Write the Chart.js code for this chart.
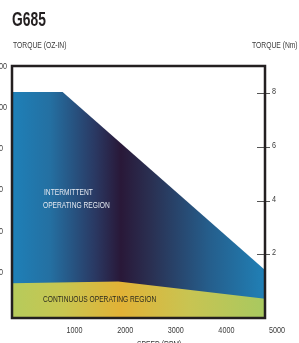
<!DOCTYPE html>
<html><head><meta charset="utf-8">
<script src="https://cdn.jsdelivr.net/npm/chart.js@4.4.1/dist/chart.umd.min.js"></script>
<style>
html,body{margin:0;padding:0;width:299px;height:343px;overflow:hidden;background:#fff;}
#wrap{position:absolute;left:-9px;top:0;width:308px;height:348px;}
.t{position:absolute;white-space:nowrap;font-family:"Liberation Sans",Arial,sans-serif;line-height:1;transform-origin:0 0;}
.s{font-size:9px;color:#3a3a3a;transform:scaleX(0.75);}
.r{font-size:9.5px;transform:scaleX(0.7);}
</style></head><body>
<div id="wrap"><canvas id="c" width="308" height="348"></canvas></div>
<div class="t" style="left:12px;top:9.5px;font-size:19.5px;font-weight:bold;color:#231f20;transform:scaleX(0.71);">G685</div>
<div class="t s" style="left:13px;top:40.6px;">TORQUE (OZ-IN)</div>
<div class="t s" style="left:251.5px;top:40.6px;">TORQUE (Nm)</div>
<div class="t s" style="left:137px;top:339.5px;">SPEED (RPM)</div>
<div class="t r" style="left:44px;top:187px;color:#e4e8f0;">INTERMITTENT</div>
<div class="t r" style="left:43px;top:200px;color:#e4e8f0;">OPERATING REGION</div>
<div class="t r" style="left:43px;top:294px;color:#2b2a1f;">CONTINUOUS OPERATING REGION</div>
<script>
// ---- data ----
const intermittentSpeed = [0, 1000, 5000];
const intermittentTorqueNm = [8.05, 8.05, 1.42];
const continuousSpeed = [0, 2100, 5000];
const continuousTorqueNm = [0.92, 0.99, 0.34];
const xTicks = [1000, 2000, 3000, 4000, 5000];
const leftTicksOzIn = [200, 400, 600, 800, 1000, 1200];
const rightTicksNm = [2, 4, 6, 8];

const FONT = '9.5px "Liberation Sans", Arial, sans-serif';
const SX = 0.76;

function hGrad(context, stops){
  const chart = context.chart, a = chart.chartArea;
  if(!a) return 'rgba(0,0,0,0)';
  const g = chart.ctx.createLinearGradient(a.left, 0, a.right, 0);
  stops.forEach(s => g.addColorStop(s[0], s[1]));
  return g;
}

function label(ctx, text, x, y, align){
  ctx.save();
  ctx.translate(x, y);
  ctx.scale(SX, 1);
  ctx.textAlign = align;
  ctx.textBaseline = 'middle';
  ctx.fillText(text, 0, 0);
  ctx.restore();
}

const framePlugin = {
  id: 'frame',
  afterDatasetsDraw(chart){
    const {ctx, chartArea: a} = chart;
    const r = chart.scales.yR;
    ctx.save();
    ctx.strokeStyle = '#555'; ctx.lineWidth = 1;
    r.ticks.forEach(t => {
      const y = Math.round(r.getPixelForValue(t.value)) + 0.5;
      ctx.beginPath(); ctx.moveTo(a.right - 8, y); ctx.lineTo(a.right + 5, y); ctx.stroke();
    });
    ctx.strokeStyle = '#231f20'; ctx.lineWidth = 2.5;
    ctx.strokeRect(a.left, a.top, a.right - a.left, a.bottom - a.top);
    ctx.restore();
  },
  afterDraw(chart){
    const {ctx, chartArea: a, scales} = chart;
    ctx.save();
    ctx.font = FONT;
    ctx.fillStyle = '#3a3a3a';
    scales.x.ticks.forEach(t => label(ctx, String(t.value), scales.x.getPixelForValue(t.value) + 12, a.bottom + 12, 'center'));
    scales.yL.ticks.forEach(t => label(ctx, String(t.value), 0, scales.yL.getPixelForValue(t.value), 'left'));
    scales.yR.ticks.forEach(t => label(ctx, String(t.value), a.right + 7, scales.yR.getPixelForValue(t.value) - 1.5, 'left'));
    ctx.restore();
  }
};

new Chart(document.getElementById('c'), {
  type: 'line',
  data: {
    datasets: [
      {
        label: 'Continuous',
        data: continuousSpeed.map((x, i) => ({x, y: continuousTorqueNm[i]})),
        yAxisID: 'yR', fill: 'start', borderWidth: 0, pointRadius: 0, tension: 0, order: 1,
        backgroundColor: c => hGrad(c, [[0,'#b6cb5c'],[0.2,'#c8c650'],[0.43,'#e2b236'],[0.7,'#c8c452'],[1,'#a8c960']])
      },
      {
        label: 'Intermittent',
        data: intermittentSpeed.map((x, i) => ({x, y: intermittentTorqueNm[i]})),
        yAxisID: 'yR', fill: 'start', borderWidth: 0, pointRadius: 0, tension: 0, order: 2,
        backgroundColor: c => hGrad(c, [[0,'#1e80b8'],[0.15,'#2470a2'],[0.33,'#2a3862'],[0.43,'#291838'],[0.55,'#2a3052'],[0.78,'#255e8c'],[1,'#2080b6']])
      }
    ]
  },
  options: {
    responsive: false, animation: false, devicePixelRatio: 1,
    layout: { padding: { top: 66, left: 0, right: 0, bottom: 0 } },
    plugins: { legend: { display: false }, tooltip: { enabled: false } },
    scales: {
      x: {
        type: 'linear', position: 'bottom', min: 0, max: 5000,
        grid: { display: false, drawTicks: false }, border: { display: false },
        afterBuildTicks: s => { s.ticks = xTicks.map(v => ({value: v})); },
        afterFit: s => { s.height = 30; },
        ticks: { display: false }
      },
      yL: {
        type: 'linear', position: 'left', min: -21, max: 1200,
        grid: { display: false, drawTicks: false }, border: { display: false },
        afterBuildTicks: s => { s.ticks = leftTicksOzIn.map(v => ({value: v})); },
        afterFit: s => { s.width = 21; },
        ticks: { display: false }
      },
      yR: {
        type: 'linear', position: 'right', min: -0.373, max: 9.02,
        grid: { display: false, drawTicks: false }, border: { display: false },
        afterBuildTicks: s => { s.ticks = rightTicksNm.map(v => ({value: v})); },
        afterFit: s => { s.width = 34; },
        ticks: { display: false }
      }
    }
  },
  plugins: [framePlugin]
});
</script>
</body></html>
